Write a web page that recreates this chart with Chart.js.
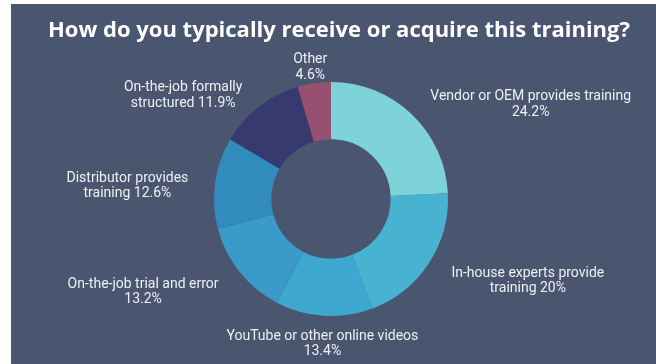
<!DOCTYPE html>
<html>
<head>
<meta charset="utf-8">
<script src="https://cdn.jsdelivr.net/npm/chart.js@4/dist/chart.umd.min.js"></script>
<style>
  html, body { margin: 0; padding: 0; background: #ffffff; }
  #panel {
    position: absolute; left: 11px; top: 4px;
    width: 645px; height: 360px;
    background: #4a566f;
  }
  #panel canvas { position: absolute; left: 0; top: 0; }
</style>
</head>
<body>
<div id="panel"><canvas id="trainingChart" width="645" height="360"></canvas></div>
<script>
const titleText = "How do you typically receive or acquire this training?";
const categories = [
  ["Vendor or OEM provides training"],
  ["In-house experts provide", "training"],
  ["YouTube or other online videos"],
  ["On-the-job trial and error"],
  ["Distributor provides", "training"],
  ["On-the-job formally", "structured"],
  ["Other"]
];
const shares = [24.2, 20, 13.4, 13.2, 12.6, 11.9, 4.6];
// whether the percentage goes on its own line under the name
const pctOnNewLine = [true, false, true, true, false, false, true];
const sliceColors = ["#7ed3da", "#47b3d0", "#3ea8d0", "#3a9ac8", "#318bbd", "#363a6f", "#97506f"];

// draws the title and a centred text block beside each slice, along its mid angle
const sliceLabels = {
  id: "sliceLabels",
  afterDraw(chart) {
    const ctx = chart.ctx;
    ctx.save();
    ctx.fillStyle = "#ffffff";
    ctx.font = "bold 22px 'Open Sans'";
    ctx.textAlign = "center";
    ctx.textBaseline = "middle";
    ctx.fillText(titleText, 328, 27);

    ctx.fillStyle = "#eef0f3";
    ctx.font = "14px Roboto";
    const meta = chart.getDatasetMeta(0);
    meta.data.forEach((arc, i) => {
      const mid = (arc.startAngle + arc.endAngle) / 2;
      // labels sit on a slightly wide ellipse around the ring
      const x = arc.x + Math.cos(mid) * (arc.outerRadius + 27);
      const y = arc.y + Math.sin(mid) * (arc.outerRadius + 22) + 6;
      const lines = categories[i].slice();
      const pct = shares[i] + "%";
      if (pctOnNewLine[i]) lines.push(pct);
      else lines[lines.length - 1] += " " + pct;
      const w = Math.max(...lines.map(t => ctx.measureText(t).width));
      const c = Math.cos(mid);
      let cx = x;
      if (Math.abs(c) >= 0.3) cx = c > 0 ? x + w / 2 : x - w / 2;
      const lh = 15.5;
      const top = y - (lines.length - 1) * lh / 2;
      lines.forEach((t, j) => ctx.fillText(t, cx, top + j * lh));
    });
    ctx.restore();
  }
};

new Chart(document.getElementById("trainingChart"), {
  type: "doughnut",
  data: {
    labels: categories.map(c => c.join(" ")),
    datasets: [{
      data: shares,
      backgroundColor: sliceColors,
      borderWidth: 0
    }]
  },
  options: {
    responsive: false,
    animation: false,
    cutout: "51%",
    layout: { padding: { top: 78, bottom: 48, left: 0, right: 5 } },
    plugins: {
      legend: { display: false },
      tooltip: { enabled: false },
      title: { display: false }
    }
  },
  plugins: [sliceLabels]
});
</script>
</body>
</html>
